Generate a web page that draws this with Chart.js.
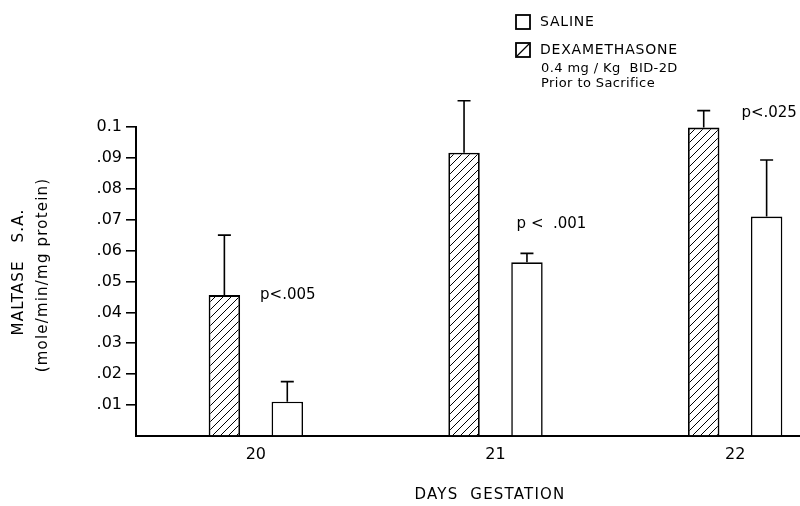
<!DOCTYPE html>
<html>
<head>
<meta charset="utf-8">
<script src="https://cdn.jsdelivr.net/npm/chart.js@4"></script>
<style>
  html, body { margin: 0; padding: 0; background: #fff; overflow: hidden; }
  #wrap { width: 855px; height: 506px; }
</style>
</head>
<body>
<div id="wrap"><canvas id="maltaseChart" width="855" height="506"></canvas></div>
<script>
// Data
const days = ['20', '21', '22'];
const dexaValues = [0.0456, 0.0917, 0.0998];
const dexaErrors = [0.0194, 0.0168, 0.0055];
const salineValues = [0.0111, 0.0562, 0.0710];
const salineErrors = [0.0065, 0.0029, 0.0183];
const pLabels = ['p<.005', 'p <  .001', 'p<.025'];
const pLabelValues = [0.0455, 0.0685, 0.1045];

const FONT = '"DejaVu Sans", sans-serif';

// diagonal hatch for the dexamethasone bars
function makeHatch() {
  const size = 8;
  const c = document.createElement('canvas');
  c.width = size;
  c.height = size;
  const g = c.getContext('2d');
  g.fillStyle = '#fff';
  g.fillRect(0, 0, size, size);
  g.strokeStyle = '#000';
  g.lineWidth = 1;
  g.beginPath();
  g.moveTo(0, size); g.lineTo(size, 0);
  g.moveTo(-2, 2); g.lineTo(2, -2);
  g.moveTo(size - 2, size + 2); g.lineTo(size + 2, size - 2);
  g.stroke();
  return g.createPattern(c, 'repeat');
}

function spacedText(ctx, txt, x, y, spacing) {
  ctx.letterSpacing = spacing + 'px';
  ctx.fillText(txt, x, y);
  ctx.letterSpacing = '0px';
}

// error bars, p values, legend and axis titles
const decorations = {
  id: 'decorations',
  afterDatasetsDraw(chart) {
    const ctx = chart.ctx;
    const yScale = chart.scales.y;
    const errs = [dexaErrors, salineErrors];

    ctx.save();
    ctx.strokeStyle = '#000';
    ctx.lineWidth = 1.6;
    chart.data.datasets.forEach((ds, di) => {
      const meta = chart.getDatasetMeta(di);
      meta.data.forEach((bar, i) => {
        const yTop = yScale.getPixelForValue(ds.data[i] + errs[di][i]);
        ctx.beginPath();
        ctx.moveTo(bar.x, bar.y);
        ctx.lineTo(bar.x, yTop);
        ctx.moveTo(bar.x - 6.5, yTop);
        ctx.lineTo(bar.x + 6.5, yTop);
        ctx.stroke();
      });
    });

    // p values
    const xScale = chart.scales.x;
    const pOffsets = [32, 56, 34];
    ctx.fillStyle = '#000';
    ctx.font = '15px ' + FONT;
    ctx.textAlign = 'center';
    ctx.textBaseline = 'middle';
    pLabels.forEach((txt, i) => {
      const x = xScale.getPixelForValue(i) + pOffsets[i];
      ctx.fillText(txt, x, yScale.getPixelForValue(pLabelValues[i]));
    });

    // legend
    ctx.lineWidth = 1.8;
    ctx.fillStyle = '#fff';
    ctx.fillRect(516, 15, 14, 14);
    ctx.strokeRect(516, 15, 14, 14);
    ctx.fillRect(516, 43, 14, 14);
    ctx.strokeRect(516, 43, 14, 14);
    ctx.lineWidth = 1.2;
    ctx.beginPath();
    ctx.moveTo(517, 56);
    ctx.lineTo(529, 44);
    ctx.stroke();

    ctx.fillStyle = '#000';
    ctx.textAlign = 'left';
    ctx.font = '14px ' + FONT;
    spacedText(ctx, 'SALINE', 540, 22, 0.8);
    spacedText(ctx, 'DEXAMETHASONE', 540, 50, 0.8);
    ctx.font = '13px ' + FONT;
    spacedText(ctx, '0.4 mg / Kg  BID-2D', 541, 69, 0.4);
    spacedText(ctx, 'Prior to Sacrifice', 541, 84, 0.4);

    // axis titles
    ctx.textAlign = 'center';
    ctx.font = '15px ' + FONT;
    spacedText(ctx, 'DAYS  GESTATION', 490, 495, 1.2);

    ctx.save();
    ctx.translate(19, 272);
    ctx.rotate(-Math.PI / 2);
    spacedText(ctx, 'MALTASE   S.A.', 0, 0, 1.2);
    ctx.restore();
    ctx.save();
    ctx.translate(43, 275);
    ctx.rotate(-Math.PI / 2);
    ctx.font = '15px ' + FONT;
    spacedText(ctx, '(mole/min/mg protein)', 0, 0, 1.2);
    ctx.restore();

    ctx.restore();
  }
};

const hatch = makeHatch();

new Chart(document.getElementById('maltaseChart'), {
  type: 'bar',
  data: {
    labels: days,
    datasets: [
      {
        label: 'DEXAMETHASONE',
        data: dexaValues,
        backgroundColor: hatch,
        borderColor: '#000',
        borderWidth: 1.8,
        borderSkipped: 'bottom'
      },
      {
        label: 'SALINE',
        data: salineValues,
        backgroundColor: '#fff',
        borderColor: '#000',
        borderWidth: 1.6,
        borderSkipped: 'bottom'
      }
    ]
  },
  options: {
    responsive: false,
    animation: false,
    categoryPercentage: 0.525,
    barPercentage: 0.5,
    layout: { padding: { top: 127, left: 0, right: 0, bottom: 0 } },
    plugins: {
      legend: { display: false },
      tooltip: { enabled: false }
    },
    scales: {
      x: {
        grid: { display: false },
        border: { display: true, color: '#000', width: 2 },
        ticks: { color: '#000', padding: 1, font: { family: FONT, size: 16 } },
        afterFit(scale) { scale.height = 70; }
      },
      y: {
        min: 0,
        max: 0.1,
        grid: {
          drawOnChartArea: false,
          drawTicks: true,
          tickLength: 10,
          lineWidth: 1.6,
          color: (c) => (c.tick && c.tick.value === 0 ? 'rgba(0,0,0,0)' : '#000')
        },
        border: { display: true, color: '#000', width: 2 },
        ticks: {
          stepSize: 0.01,
          color: '#000',
          padding: 4,
          font: { family: FONT, size: 16 },
          callback: (v) => (v === 0 ? '' : v >= 0.1 ? '0.1' : v.toFixed(2).replace(/^0/, ''))
        },
        afterFit(scale) { scale.width = 136; }
      }
    }
  },
  plugins: [decorations]
});
</script>
</body>
</html>
